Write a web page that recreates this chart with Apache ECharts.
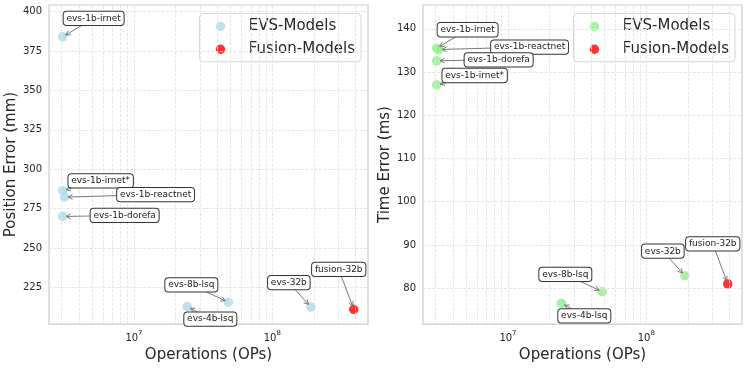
<!DOCTYPE html>
<html>
<head>
<meta charset="utf-8">
<script src="https://cdn.jsdelivr.net/npm/echarts@6/dist/echarts.min.js"></script>
<style>
  html, body { margin: 0; padding: 0; background: #fff; }
  #box { width: 748px; height: 368px; }
</style>
</head>
<body>
<div id="box"></div>
<script>
var mychart = echarts.init(document.getElementById('box'));

// data
var evsNames = ['evs-1b-irnet', 'evs-1b-irnet*', 'evs-1b-reactnet', 'evs-1b-dorefa', 'evs-4b-lsq', 'evs-8b-lsq', 'evs-32b'];
var evsOps = [3.05e6, 3.05e6, 3.15e6, 3.05e6, 2.43e7, 4.81e7, 1.90e8];
var evsPosErr = [384, 286.5, 282.3, 270, 212.8, 215.6, 212.5];
var evsTimeErr = [135.5, 127.0, 135.2, 132.6, 76.5, 79.2, 82.9];
var fusionNames = ['fusion-32b'];
var fusionOps = [3.88e8];
var fusionPosErr = [211.1];
var fusionTimeErr = [81.0];

var xTicks = [1e7, 1e8];
var posTicks = [225, 250, 275, 300, 325, 350, 375, 400];
var timeTicks = [80, 90, 100, 110, 120, 130, 140];
var legendNames = ['EVS-Models', 'Fusion-Models'];

// label box offsets in px (centre of box relative to the point)
var labelOffsets = {
    'evs-1b-irnet': [31, -18.5],
    'evs-1b-irnet*': [38, -9.5],
    'evs-1b-reactnet': [91, -2.5],
    'evs-1b-dorefa': [62, -1],
    'evs-4b-lsq': [23, 12.5],
    'evs-8b-lsq': [-37, -17.3],
    'evs-32b': [-22, -24.5],
    'fusion-32b': [-15, -40]
};

var FONT = '"DejaVu Sans", sans-serif';
var textColor = '#262626';
var gridColor = '#e3e3e3';
var annFont = '9px ' + FONT;

var measureCtx = document.createElement('canvas').getContext('2d');
measureCtx.font = annFont;

// minor log grid positions (k * 10^p)
var xMinor = [];
[6, 7, 8].forEach(function (p) {
    for (var k = 2; k <= 9; k++) xMinor.push(k * Math.pow(10, p));
});

function pairs(xs, ys) {
    return xs.map(function (x, i) { return [x, ys[i]]; });
}

function annData(names, xs, ys) {
    return names.map(function (n, i) { return [xs[i], ys[i], n]; });
}

function renderAnn(params, api) {
    var p = api.coord([api.value(0), api.value(1)]);
    var name = api.value(2);
    var off = labelOffsets[name];
    var cx = p[0] + off[0], cy = p[1] + off[1];
    var hw = measureCtx.measureText(name).width / 2 + 3.2;
    var hh = 7;
    // clip the centre->point line to the box edge
    var dx = p[0] - cx, dy = p[1] - cy;
    var t = Math.min(Math.abs(dx) > 0 ? hw / Math.abs(dx) : 1e9, Math.abs(dy) > 0 ? hh / Math.abs(dy) : 1e9);
    var sx = cx + dx * t, sy = cy + dy * t;
    var len = Math.sqrt(dx * dx + dy * dy);
    var ux = dx / len, uy = dy / len;
    var ex = p[0] - ux * 3.5, ey = p[1] - uy * 3.5;
    var hl = 4.5, hwid = 2.4;
    var bx = ex - ux * hl, by = ey - uy * hl;
    return {
        type: 'group',
        children: [{
            type: 'line',
            shape: { x1: sx, y1: sy, x2: ex, y2: ey },
            style: { stroke: '#7a7a7a', lineWidth: 1 }
        }, {
            type: 'polyline',
            shape: { points: [[bx - uy * hwid, by + ux * hwid], [ex, ey], [bx + uy * hwid, by - ux * hwid]] },
            style: { stroke: '#7a7a7a', lineWidth: 1, fill: null }
        }, {
            type: 'text',
            style: {
                text: name,
                x: cx,
                y: cy,
                align: 'center',
                verticalAlign: 'middle',
                font: annFont,
                fill: '#1a1a1a',
                backgroundColor: '#fff',
                borderColor: '#333',
                borderWidth: 1,
                borderRadius: 3,
                padding: [2.5, 2.8, 1.8, 2.8]
            }
        }]
    };
}

function gridSeries(idx, yTicks) {
    var data = [];
    xTicks.concat(xMinor).forEach(function (v) { data.push({ xAxis: v }); });
    yTicks.forEach(function (v) { data.push({ yAxis: v }); });
    return {
        type: 'line',
        xAxisIndex: idx,
        yAxisIndex: idx,
        data: [],
        z: 1,
        silent: true,
        markLine: {
            silent: true,
            symbol: 'none',
            label: { show: false },
            animation: false,
            lineStyle: { color: gridColor, type: [3, 1.5], width: 0.9 },
            data: data
        }
    };
}

function xAxisCfg(idx) {
    return {
        type: 'log',
        logBase: 10,
        gridIndex: idx,
        min: 2.43e6,
        max: 4.92e8,
        name: 'Operations (OPs)',
        nameLocation: 'middle',
        nameGap: 19,
        nameTextStyle: { fontFamily: FONT, fontSize: 15, color: textColor },
        axisLine: { show: false },
        axisTick: { show: false },
        splitLine: { show: false },
        axisLabel: {
            customValues: xTicks,
            margin: 6,
            formatter: function (v) {
                return '{b|10}{s|' + Math.round(Math.log10(v)) + '}';
            },
            rich: {
                b: { fontFamily: FONT, fontSize: 10, color: textColor, verticalAlign: 'bottom', lineHeight: 13 },
                s: { fontFamily: FONT, fontSize: 7, color: textColor, verticalAlign: 'top', padding: [0, 0, 5, 0] }
            }
        }
    };
}

function yAxisCfg(idx, name, lo, hi, ticks) {
    return {
        type: 'value',
        gridIndex: idx,
        min: lo,
        max: hi,
        name: name,
        nameLocation: 'middle',
        nameGap: 30,
        nameTextStyle: { fontFamily: FONT, fontSize: 15, color: textColor },
        axisLine: { show: false },
        axisTick: { show: false },
        splitLine: { show: false },
        axisLabel: {
            customValues: ticks,
            margin: 7,
            fontFamily: FONT,
            fontSize: 10,
            color: textColor
        }
    };
}

// legend box drawn as graphic (matplotlib-like layout)
function legendGraphic(left, colors) {
    var children = [{
        type: 'rect',
        shape: { x: 0, y: 0, width: 161.5, height: 48.3, r: 4 },
        style: { fill: 'rgba(255,255,255,0.8)', stroke: '#d6d6d6', lineWidth: 1 }
    }];
    legendNames.forEach(function (n, i) {
        var cy = 13 + i * 22.7;
        children.push({
            type: 'circle',
            shape: { cx: 21, cy: cy, r: 4.7 },
            style: { fill: colors[i], opacity: 0.8 }
        });
        children.push({
            type: 'text',
            style: {
                text: n, x: 49.3, y: cy, align: 'left', verticalAlign: 'middle',
                font: '15px ' + FONT, fill: textColor
            }
        });
    });
    return { type: 'group', left: left, top: 13, z: 10, children: children };
}

function scatterSeries(name, idx, data, color) {
    return {
        name: name,
        type: 'scatter',
        xAxisIndex: idx,
        yAxisIndex: idx,
        symbolSize: 9.5,
        z: 3,
        itemStyle: { color: color, opacity: 0.8 },
        data: data
    };
}

function annSeries(idx, data) {
    return {
        type: 'custom',
        xAxisIndex: idx,
        yAxisIndex: idx,
        z: 5,
        silent: true,
        renderItem: renderAnn,
        data: data
    };
}

var options = {
    animation: false,
    grid: [
        { left: 49, top: 5, width: 319, height: 322, show: true, borderColor: '#cccccc', borderWidth: 1.2, backgroundColor: '#fff' },
        { left: 423, top: 5, width: 319, height: 322, show: true, borderColor: '#cccccc', borderWidth: 1.2, backgroundColor: '#fff' }
    ],
    graphic: [
        legendGraphic(199, ['#add8e6', '#ff0000']),
        legendGraphic(573, ['#90ee90', '#ff0000'])
    ],
    xAxis: [xAxisCfg(0), xAxisCfg(1)],
    yAxis: [
        yAxisCfg(0, 'Position Error (mm)', 201.7, 404.2, posTicks),
        yAxisCfg(1, 'Time Error (ms)', 71.7, 145.5, timeTicks)
    ],
    series: [
        gridSeries(0, posTicks),
        gridSeries(1, timeTicks),
        scatterSeries('EVS-Models', 0, pairs(evsOps, evsPosErr), '#add8e6'),
        scatterSeries('Fusion-Models', 0, pairs(fusionOps, fusionPosErr), '#ff0000'),
        scatterSeries('EVS-Models', 1, pairs(evsOps, evsTimeErr), '#90ee90'),
        scatterSeries('Fusion-Models', 1, pairs(fusionOps, fusionTimeErr), '#ff0000'),
        annSeries(0, annData(evsNames, evsOps, evsPosErr).concat(annData(fusionNames, fusionOps, fusionPosErr))),
        annSeries(1, annData(evsNames, evsOps, evsTimeErr).concat(annData(fusionNames, fusionOps, fusionTimeErr)))
    ]
};

mychart.setOption(options);
</script>
</body>
</html>
